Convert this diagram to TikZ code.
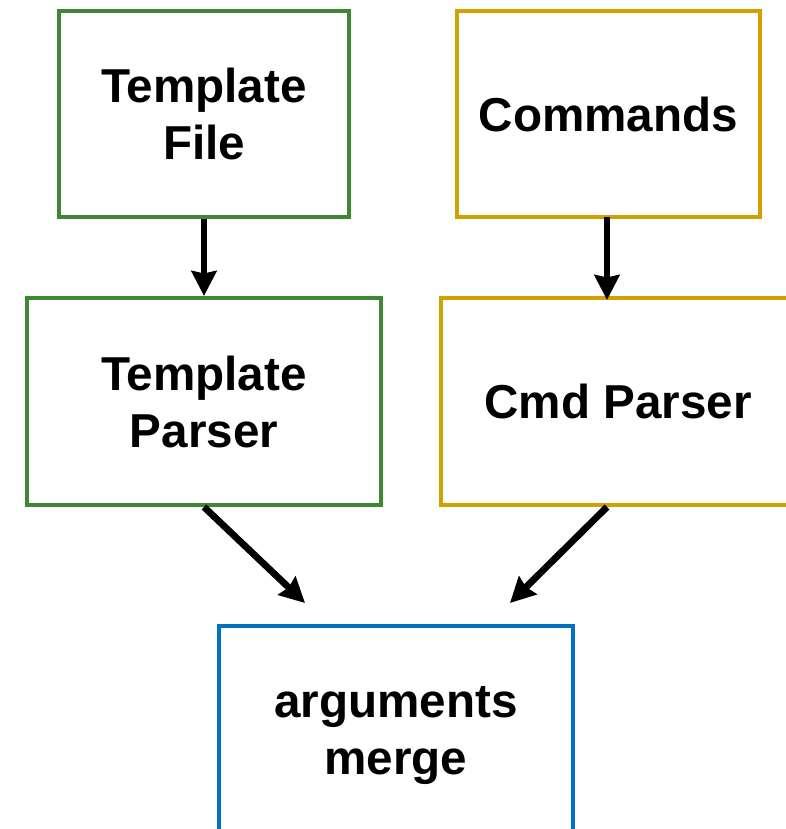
\documentclass[tikz,border=0pt]{standalone}
\usepackage{fontspec}
\setmainfont{Liberation Sans}
\usetikzlibrary{arrows.meta,calc}
\definecolor{boxgreen}{RGB}{62,135,51}
\definecolor{boxgold}{RGB}{210,160,0}
\definecolor{boxblue}{RGB}{0,112,192}
\tikzset{
  stage/.style={draw, line width=4pt, inner sep=0pt, align=center, text=black,
    font=\fontsize{47.6}{57}\selectfont\bfseries},
  flow/.style={line width=6.8pt, -{Stealth[length=25pt,width=25pt,inset=2.5pt]}}
}
\begin{document}
\begin{tikzpicture}[x=1pt,y=-1pt]
\useasboundingbox (0,0) rectangle (786,829);
\clip (0,0) rectangle (786,829);
\node[stage, draw=boxgreen, minimum width=290pt, minimum height=206pt] (tf) at (204,114) {Template\\File};
\node[stage, draw=boxgold, minimum width=303pt, minimum height=206pt] (cm) at (608.5,114) {Commands};
\node[stage, draw=boxgreen, minimum width=354pt, minimum height=207pt] (tp) at (204,401.5) {Template\\Parser};
\node[stage, draw=boxgold, minimum width=354pt, minimum height=207pt] (cp) at (618,401.5) {Cmd Parser};
\node[stage, draw=boxblue, minimum width=354pt, minimum height=220pt] (mg) at (396,736) {arguments\\merge};
\coordinate (mgl) at ($(mg.north)+(-91,-21)$);
\coordinate (mgr) at ($(mg.north)+(114,-21)$);
\coordinate (cmout) at (607,217);
\draw[flow] (tf.south) -- (tp.north);
\draw[flow] (cmout) -- ($(cmout |- cp.north)+(0,4)$);
\draw[flow] (tp.south) -- (mgl);
\draw[flow] (cmout |- cp.south) -- (mgr);
\end{tikzpicture}
\end{document}
